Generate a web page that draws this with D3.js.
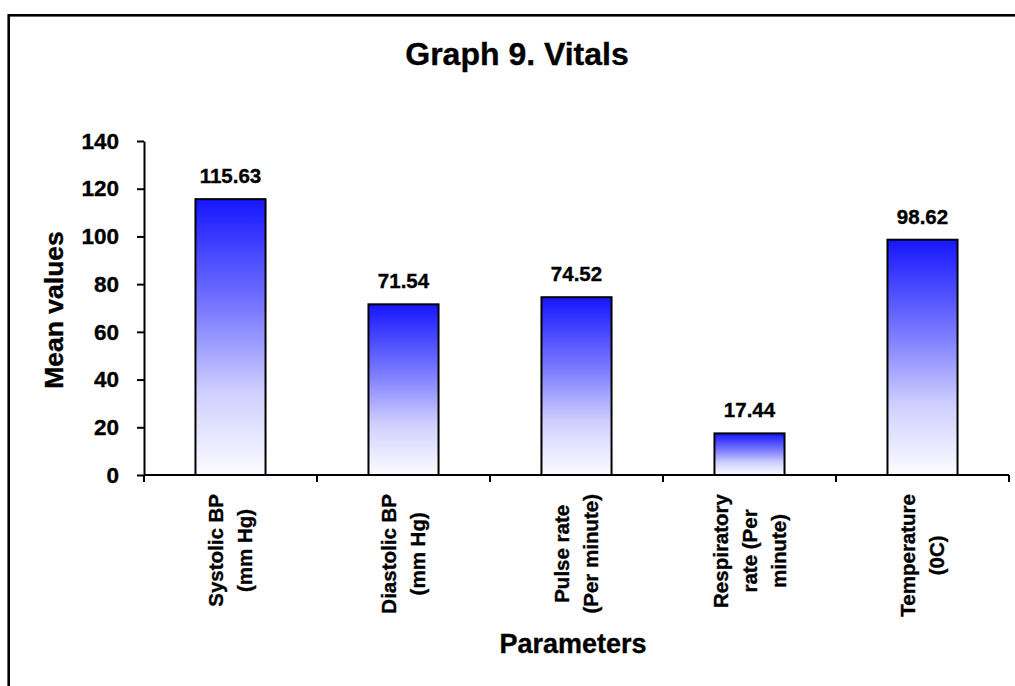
<!DOCTYPE html>
<html>
<head>
<meta charset="utf-8">
<script src="https://cdn.jsdelivr.net/npm/d3@7"></script>
<style>
  html, body { margin: 0; padding: 0; background: #fff; }
  svg { display: block; font-family: Arial, "Liberation Sans", sans-serif; }
  svg text { stroke: #000; stroke-width: 0.35px; fill: #000; }
</style>
</head>
<body>
<svg id="chart" width="1015" height="686"></svg>
<script>
// Vital parameters and their mean values
const categories = [
  "Systolic BP (mm Hg)",
  "Diastolic BP (mm Hg)",
  "Pulse rate (Per minute)",
  "Respiratory rate (Per minute)",
  "Temperature (0C)"
];
const categoryLines = [
  ["Systolic BP", "(mm Hg)"],
  ["Diastolic BP", "(mm Hg)"],
  ["Pulse rate", "(Per minute)"],
  ["Respiratory", "rate (Per", "minute)"],
  ["Temperature", "(0C)"]
];
const meanValues = [115.63, 71.54, 74.52, 17.44, 98.62];
const yTicks = [0, 20, 40, 60, 80, 100, 120, 140];

const titleText = "Graph 9. Vitals";
const xTitle = "Parameters";
const yTitle = "Mean values";

const svg = d3.select("#chart");

// outer frame
svg.append("rect")
  .attr("x", 8.7).attr("y", 15.3)
  .attr("width", 1040).attr("height", 700)
  .attr("fill", "none").attr("stroke", "#000").attr("stroke-width", 2.6);

const plot = { left: 144, right: 1009, top: 141, bottom: 475 };

const x = d3.scaleBand()
  .domain(categories)
  .range([plot.left, plot.right])
  .padding(0);

const y = d3.scaleLinear()
  .domain([0, 140])
  .range([plot.bottom, plot.top]);

const barWidth = x.bandwidth() * 0.405;

// vertical blue-to-white fill
const defs = svg.append("defs");
const grad = defs.append("linearGradient")
  .attr("id", "barFill")
  .attr("x1", 0).attr("y1", 0).attr("x2", 0).attr("y2", 1);
grad.append("stop").attr("offset", "0%").attr("stop-color", "#1616ff");
grad.append("stop").attr("offset", "40%").attr("stop-color", "#7a7aff");
grad.append("stop").attr("offset", "70%").attr("stop-color", "#cfcfff");
grad.append("stop").attr("offset", "100%").attr("stop-color", "#fcfcff");

// bars
svg.append("g").selectAll("rect")
  .data(meanValues)
  .join("rect")
  .attr("x", (d, i) => x(categories[i]) + x.bandwidth() / 2 - barWidth / 2)
  .attr("y", d => y(d))
  .attr("width", barWidth)
  .attr("height", d => y(0) - y(d))
  .attr("fill", "url(#barFill)")
  .attr("stroke", "#000")
  .attr("stroke-width", 2);

// value labels
svg.append("g").selectAll("text")
  .data(meanValues)
  .join("text")
  .attr("x", (d, i) => x(categories[i]) + x.bandwidth() / 2)
  .attr("y", d => y(d) - 16)
  .attr("text-anchor", "middle")
  .attr("font-size", 20.5)
  .attr("font-weight", "bold")
  .text(d => d.toFixed(2));

// y axis
const yAxis = svg.append("g")
  .attr("transform", `translate(${plot.left},0)`)
  .call(d3.axisLeft(y).tickValues(yTicks).tickSize(7).tickSizeOuter(0).tickPadding(18));
yAxis.select(".domain").attr("stroke", "#000").attr("stroke-width", 2);
yAxis.selectAll(".tick line").attr("stroke", "#000").attr("stroke-width", 2);
yAxis.selectAll(".tick text")
  .attr("font-size", 22.5).attr("font-weight", "bold")
  .attr("font-family", "Arial, 'Liberation Sans', sans-serif")
  .attr("fill", "#000");

// x axis line with ticks on category boundaries
const xAxis = svg.append("g");
xAxis.append("line")
  .attr("x1", plot.left).attr("x2", plot.right)
  .attr("y1", y(0)).attr("y2", y(0))
  .attr("stroke", "#000").attr("stroke-width", 2);
const bounds = categories.map(c => x(c)).concat([x(categories[categories.length - 1]) + x.bandwidth()]);
xAxis.selectAll("line.tick")
  .data(bounds)
  .join("line")
  .attr("class", "tick")
  .attr("x1", d => d).attr("x2", d => d)
  .attr("y1", y(0)).attr("y2", y(0) + 7)
  .attr("stroke", "#000").attr("stroke-width", 2);

// rotated category labels, lines centred on each other
const labelTop = y(0) + 19;
const lineGap = 29;
categoryLines.forEach((lines, i) => {
  const cx = x(categories[i]) + x.bandwidth() / 2;
  const g = svg.append("g");
  const texts = lines.map(t => g.append("text")
    .attr("font-size", 20.5).attr("font-weight", "bold")
    .attr("text-anchor", "middle")
    .text(t));
  const maxLen = d3.max(texts, t => t.node().getComputedTextLength());
  const cy = labelTop + maxLen / 2;
  texts.forEach((t, k) => {
    const lx = cx + (k - (lines.length - 1) / 2) * lineGap + 7;
    t.attr("transform", `translate(${lx},${cy}) rotate(-90)`);
  });
});

// titles
svg.append("text")
  .attr("x", 517).attr("y", 65)
  .attr("text-anchor", "middle")
  .attr("font-size", 32).attr("font-weight", "bold")
  .text(titleText);

svg.append("text")
  .attr("x", 573).attr("y", 653)
  .attr("text-anchor", "middle")
  .attr("font-size", 27).attr("font-weight", "bold")
  .text(xTitle);

svg.append("text")
  .attr("transform", "translate(63,310) rotate(-90)")
  .attr("text-anchor", "middle")
  .attr("font-size", 26.5).attr("font-weight", "bold")
  .text(yTitle);
</script>
</body>
</html>
